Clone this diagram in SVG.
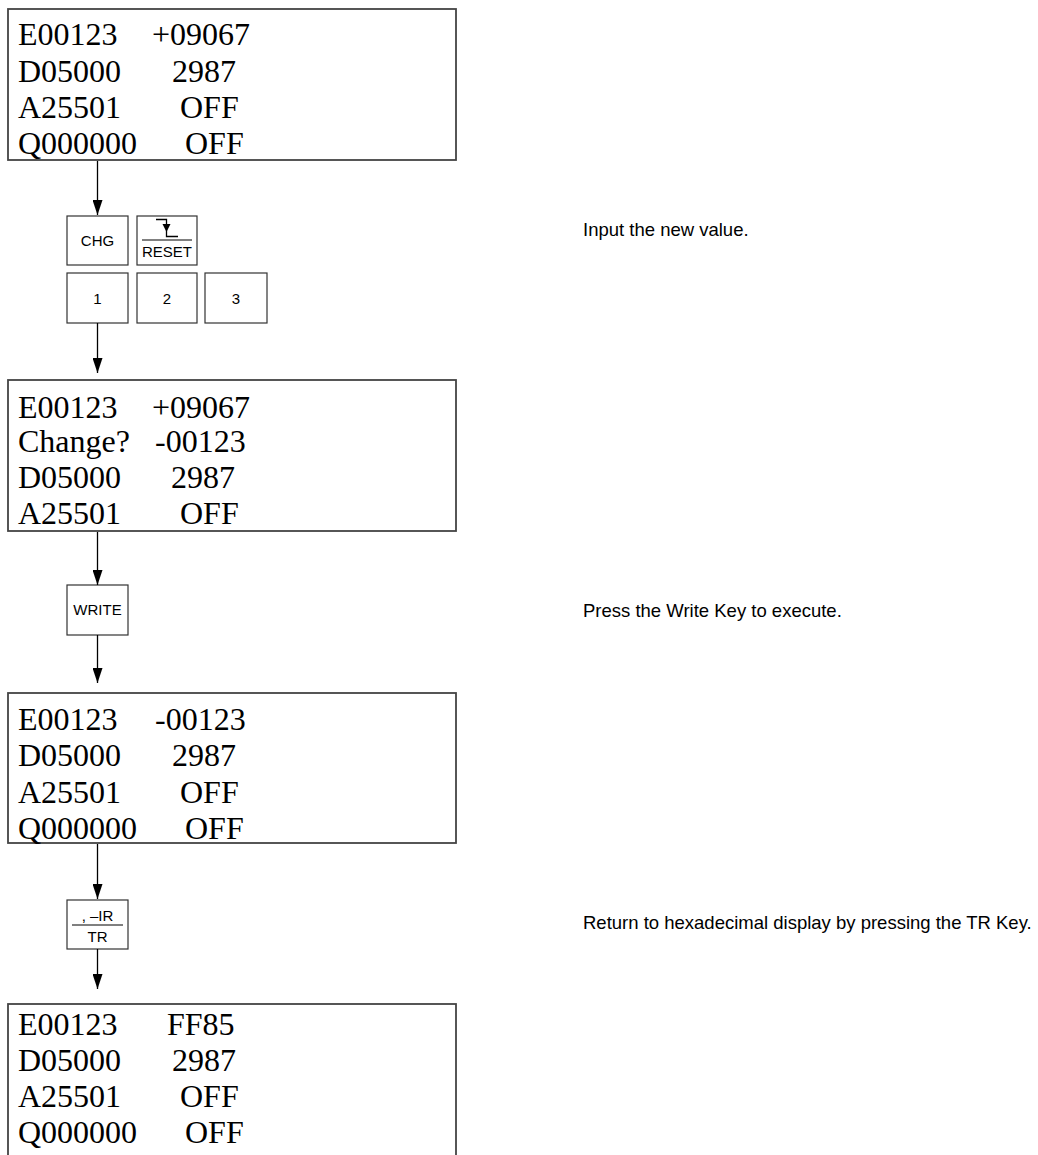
<svg xmlns="http://www.w3.org/2000/svg" width="1038" height="1155" viewBox="0 0 1038 1155">
<defs>
<style>
.scr{fill:#fff;stroke:#444;stroke-width:1.8}
.key{fill:#fff;stroke:#333;stroke-width:1.2}
.st{font-family:"Liberation Serif","Times New Roman",serif;font-size:32px;fill:#000}
.kt{font-family:"Liberation Sans",Arial,sans-serif;font-size:15px;fill:#000;text-anchor:middle}
.nt{font-family:"Liberation Sans",Arial,sans-serif;font-size:18.5px;fill:#000}
.ln{stroke:#000;stroke-width:1.3;fill:none}
</style>
<marker id="ad" markerUnits="userSpaceOnUse" markerWidth="15" markerHeight="10" refX="15" refY="5" orient="auto" viewBox="0 0 15 10">
<path d="M0,0 L15,5 L0,10 Z" fill="#000"/>
</marker>
</defs>

<g id="screen1">
<rect class="scr" x="8" y="9" width="448" height="151"/>
<text class="st" x="18" y="45">E00123</text><text class="st" x="152" y="45">+09067</text>
<text class="st" x="18" y="82">D05000</text><text class="st" x="172" y="82">2987</text>
<text class="st" x="18" y="118">A25501</text><text class="st" x="180" y="118">OFF</text>
<text class="st" x="18" y="154">Q000000</text><text class="st" x="185" y="154">OFF</text>
</g>

<g id="key-chg">
<rect class="key" x="67" y="216" width="61" height="49"/>
<text class="kt" x="97.5" y="246">CHG</text>
</g>
<g id="key-reset">
<rect class="key" x="137" y="216" width="60" height="49"/>
<path class="ln" d="M156,219.5 H166.5 V236.5 H178" stroke-width="1"/>
<path d="M162.5,224 L170.5,224 L166.5,232 Z" fill="#000"/>
<line x1="142" y1="240" x2="192" y2="240" stroke="#000" stroke-width="1"/>
<text class="kt" x="167" y="257">RESET</text>
</g>
<g id="key-1">
<rect class="key" x="67" y="273" width="61" height="50"/>
<text class="kt" x="97.5" y="304">1</text>
</g>
<g id="key-2">
<rect class="key" x="137" y="273" width="60" height="50"/>
<text class="kt" x="167" y="304">2</text>
</g>
<g id="key-3">
<rect class="key" x="205" y="273" width="62" height="50"/>
<text class="kt" x="236" y="304">3</text>
</g>

<g id="screen2">
<rect class="scr" x="8" y="380" width="448" height="151"/>
<text class="st" x="18" y="418">E00123</text><text class="st" x="152" y="418">+09067</text>
<text class="st" x="18" y="452">Change?</text><text class="st" x="155" y="452">-00123</text>
<text class="st" x="18" y="488">D05000</text><text class="st" x="171" y="488">2987</text>
<text class="st" x="18" y="524">A25501</text><text class="st" x="180" y="524">OFF</text>
</g>

<g id="key-write">
<rect class="key" x="67" y="585" width="61" height="50"/>
<text class="kt" x="97.5" y="615">WRITE</text>
</g>

<g id="screen3">
<rect class="scr" x="8" y="693" width="448" height="150"/>
<text class="st" x="18" y="730">E00123</text><text class="st" x="155" y="730">-00123</text>
<text class="st" x="18" y="766">D05000</text><text class="st" x="172" y="766">2987</text>
<text class="st" x="18" y="803">A25501</text><text class="st" x="180" y="803">OFF</text>
<text class="st" x="18" y="839">Q000000</text><text class="st" x="185" y="839">OFF</text>
</g>

<g id="key-tr">
<rect class="key" x="67" y="900" width="61" height="49"/>
<text class="kt" x="97.5" y="921">, –IR</text>
<line x1="72" y1="925" x2="123" y2="925" stroke="#000" stroke-width="1"/>
<text class="kt" x="97.5" y="942">TR</text>
</g>

<g id="screen4">
<rect class="scr" x="8" y="1004" width="448" height="153"/>
<text class="st" x="18" y="1035">E00123</text><text class="st" x="167" y="1035">FF85</text>
<text class="st" x="18" y="1071">D05000</text><text class="st" x="172" y="1071">2987</text>
<text class="st" x="18" y="1107">A25501</text><text class="st" x="180" y="1107">OFF</text>
<text class="st" x="18" y="1143">Q000000</text><text class="st" x="185" y="1143">OFF</text>
</g>

<g id="notes">
<text class="nt" x="583" y="236">Input the new value.</text>
<text class="nt" x="583" y="617">Press the Write Key to execute.</text>
<text class="nt" x="583" y="929">Return to hexadecimal display by pressing the TR Key.</text>
</g>

<g id="connectors">
<line class="ln" x1="97.5" y1="161" x2="97.5" y2="215" marker-end="url(#ad)"/>
<line class="ln" x1="97.5" y1="323" x2="97.5" y2="373" marker-end="url(#ad)"/>
<line class="ln" x1="97.5" y1="532" x2="97.5" y2="585" marker-end="url(#ad)"/>
<line class="ln" x1="97.5" y1="635" x2="97.5" y2="683" marker-end="url(#ad)"/>
<line class="ln" x1="97.5" y1="844" x2="97.5" y2="899" marker-end="url(#ad)"/>
<line class="ln" x1="97.5" y1="949" x2="97.5" y2="989" marker-end="url(#ad)"/>
</g>
</svg>
